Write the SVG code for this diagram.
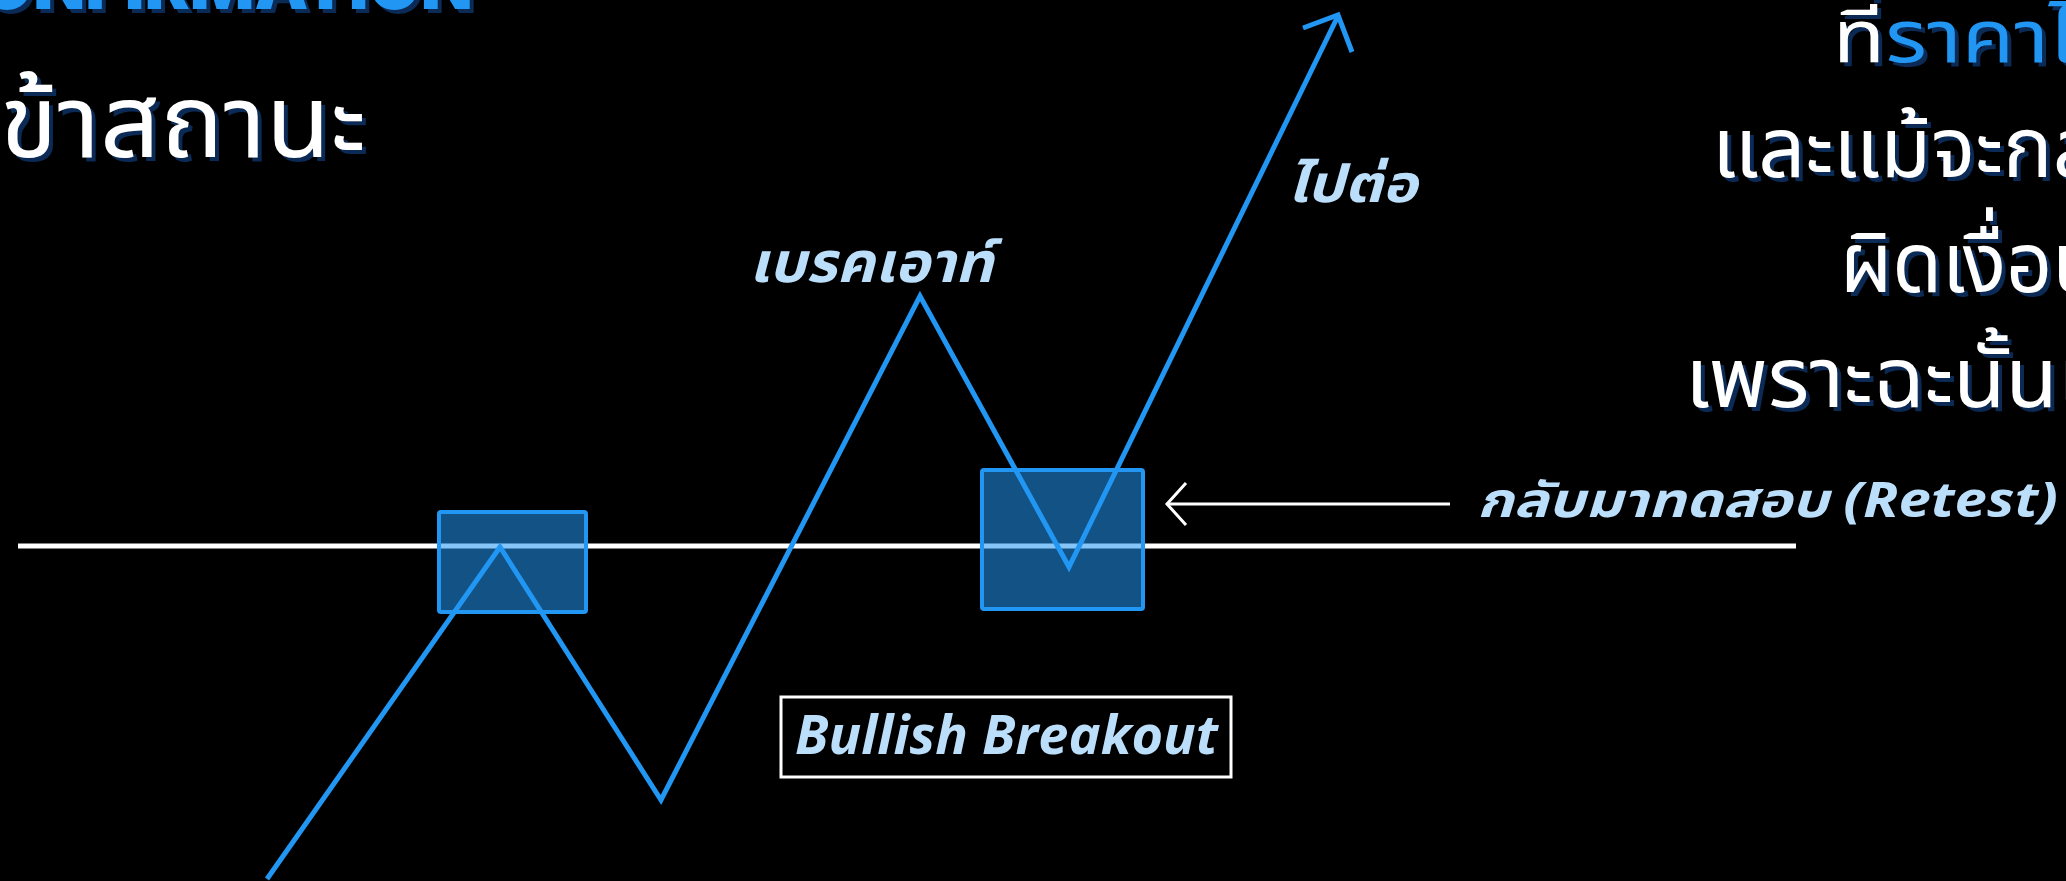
<svg xmlns="http://www.w3.org/2000/svg" width="2066" height="881" viewBox="0 0 2066 881">
<style>
.thai{font-family:'Noto Sans Thai','Noto Sans','DejaVu Sans',sans-serif;}
.w{fill:#FFFFFF;}
.b{fill:#2196F3;}
.sh{fill:#0B2A55;}
.lbl{font-family:'Open Sans','Noto Sans Thai','DejaVu Sans',sans-serif;font-weight:700;font-style:italic;fill:#BBDEFB;}
.zig{fill:none;stroke:#2196F3;stroke-width:5;stroke-linejoin:miter;stroke-linecap:butt;}
.zone{fill:#2196F3;fill-opacity:0.55;stroke:#2196F3;stroke-width:4;}
</style>
<rect x="0" y="0" width="2066" height="881" fill="#000000"/>

<g id="title">
  <text x="477" y="13" text-anchor="end" font-family="Inter,'Liberation Sans',sans-serif" font-weight="900" font-size="70" textLength="543" lengthAdjust="spacingAndGlyphs" class="sh">CONFIRMATION</text>
  <text x="473" y="9" text-anchor="end" font-family="Inter,'Liberation Sans',sans-serif" font-weight="900" font-size="70" textLength="543" lengthAdjust="spacingAndGlyphs" class="b">CONFIRMATION</text>
</g>

<g id="left-text" class="thai">
  <text x="4" y="161" font-size="102" textLength="366" lengthAdjust="spacingAndGlyphs" class="sh">ข้าสถานะ</text>
  <text x="0" y="157" font-size="102" textLength="366" lengthAdjust="spacingAndGlyphs" class="w">ข้าสถานะ</text>
</g>

<g id="right-text" class="thai">
  <text x="1837" y="66" font-size="74" textLength="242" lengthAdjust="spacingAndGlyphs" class="sh">ที่ราคาไ</text>
  <text x="1833" y="62" font-size="74" textLength="242" lengthAdjust="spacingAndGlyphs"><tspan class="w">ที่</tspan><tspan class="b">ราคาไ</tspan></text>
  <text x="1716" y="181" font-size="84" textLength="388" lengthAdjust="spacingAndGlyphs" class="sh">และแม้จะกล</text>
  <text x="1712" y="177" font-size="84" textLength="388" lengthAdjust="spacingAndGlyphs" class="w">และแม้จะกล</text>
  <text x="1844" y="296" font-size="84" textLength="262" lengthAdjust="spacingAndGlyphs" class="sh">ผิดเงื่อน</text>
  <text x="1840" y="292" font-size="84" textLength="262" lengthAdjust="spacingAndGlyphs" class="w">ผิดเงื่อน</text>
  <text x="1689" y="411" font-size="84" textLength="398" lengthAdjust="spacingAndGlyphs" class="sh">เพราะฉะนั้นเ</text>
  <text x="1685" y="407" font-size="84" textLength="398" lengthAdjust="spacingAndGlyphs" class="w">เพราะฉะนั้นเ</text>
</g>

<g id="support-line">
  <line x1="18" y1="546" x2="1796" y2="546" stroke="#FFFFFF" stroke-width="5"/>
</g>

<g id="zone-breakout">
  <rect x="439" y="512" width="147" height="100" rx="2" class="zone"/>
</g>
<g id="zone-retest">
  <rect x="982" y="470" width="161" height="139" rx="2" class="zone"/>
</g>

<g id="connectors">
  <polyline class="zig" points="267,879 500,547 661,800 920,296 1069,567 1338,16"/>
  <polyline class="zig" points="1303,28 1338,15 1352,52"/>
  <line x1="1450" y1="504" x2="1168" y2="504" stroke="#FFFFFF" stroke-width="3"/>
  <polyline points="1186,483 1167,504 1186,525" fill="none" stroke="#FFFFFF" stroke-width="3"/>
</g>

<g id="label-breakout">
  <text x="749" y="282" font-size="56" textLength="244" lengthAdjust="spacingAndGlyphs" class="lbl">เบรคเอาท์</text>
</g>
<g id="label-continue">
  <text x="1287" y="202" font-size="52" textLength="130" lengthAdjust="spacingAndGlyphs" class="lbl">ไปต่อ</text>
</g>
<g id="label-retest">
  <text x="1477" y="517" font-size="48" textLength="581" lengthAdjust="spacingAndGlyphs" class="lbl">กลับมาทดสอบ (Retest)</text>
</g>
<g id="bullish-breakout">
  <rect x="781" y="697" width="450" height="80" fill="none" stroke="#FFFFFF" stroke-width="3"/>
  <text x="795" y="754" font-size="54" textLength="423" lengthAdjust="spacingAndGlyphs" class="lbl">Bullish Breakout</text>
</g>
</svg>
